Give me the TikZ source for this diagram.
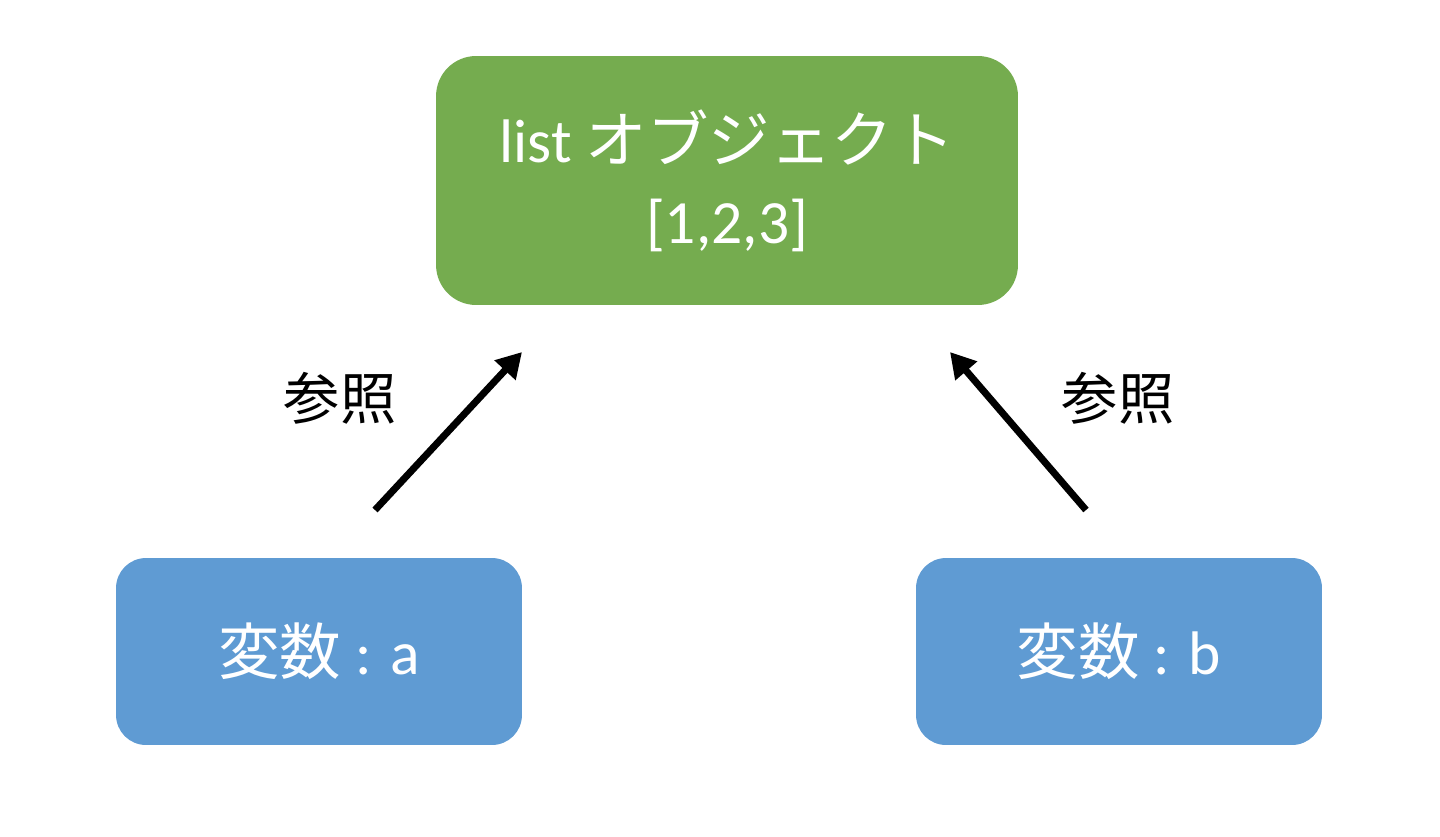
\documentclass[tikz,border=0pt]{standalone}
\usepackage{fontspec}
\setmainfont{Carlito}
\newfontfamily\jp{Noto Sans CJK JP}
\usetikzlibrary{arrows.meta}
\definecolor{boxgreen}{HTML}{75AC4F}
\definecolor{boxblue}{HTML}{5F9BD3}
\tikzset{
  objbox/.style={fill=boxgreen, rounded corners=0.8cm, minimum width=11.64cm, minimum height=4.98cm, text=white, align=center, inner sep=0pt, font=\fontsize{35}{46}\selectfont},
  varbox/.style={fill=boxblue, rounded corners=0.6cm, minimum width=8.12cm, minimum height=3.74cm, text=white, inner sep=0pt, font=\fontsize{35}{46}\selectfont},
  refarrow/.style={line width=0.14cm, -{Triangle[length=0.5cm,width=0.55cm]}},
  reflabel/.style={font=\jp\fontsize{32}{40}\selectfont, inner sep=0pt}
}
\begin{document}
\begin{tikzpicture}[x=0.02cm,y=-0.02cm]
\useasboundingbox (0,0) rectangle (1440,836);
\node[objbox] (obj) at (727,180.5) {list {\jp オブジェクト}\\{[1,2,3]}};
\node[varbox] (va) at (319,651.5) {{\jp 変数} : a};
\node[varbox] (vb) at (1119,651.5) {{\jp 変数} : b};
\coordinate (as) at (375,510);
\coordinate (ae) at (522,352);
\coordinate (bs) at (1086,510);
\coordinate (be) at (950,352);
\draw[refarrow] (as) -- (ae);
\draw[refarrow] (bs) -- (be);
\node[reflabel] (la) at (340,398) {参照};
\node[reflabel] (lb) at (1118,398) {参照};
\end{tikzpicture}
\end{document}
